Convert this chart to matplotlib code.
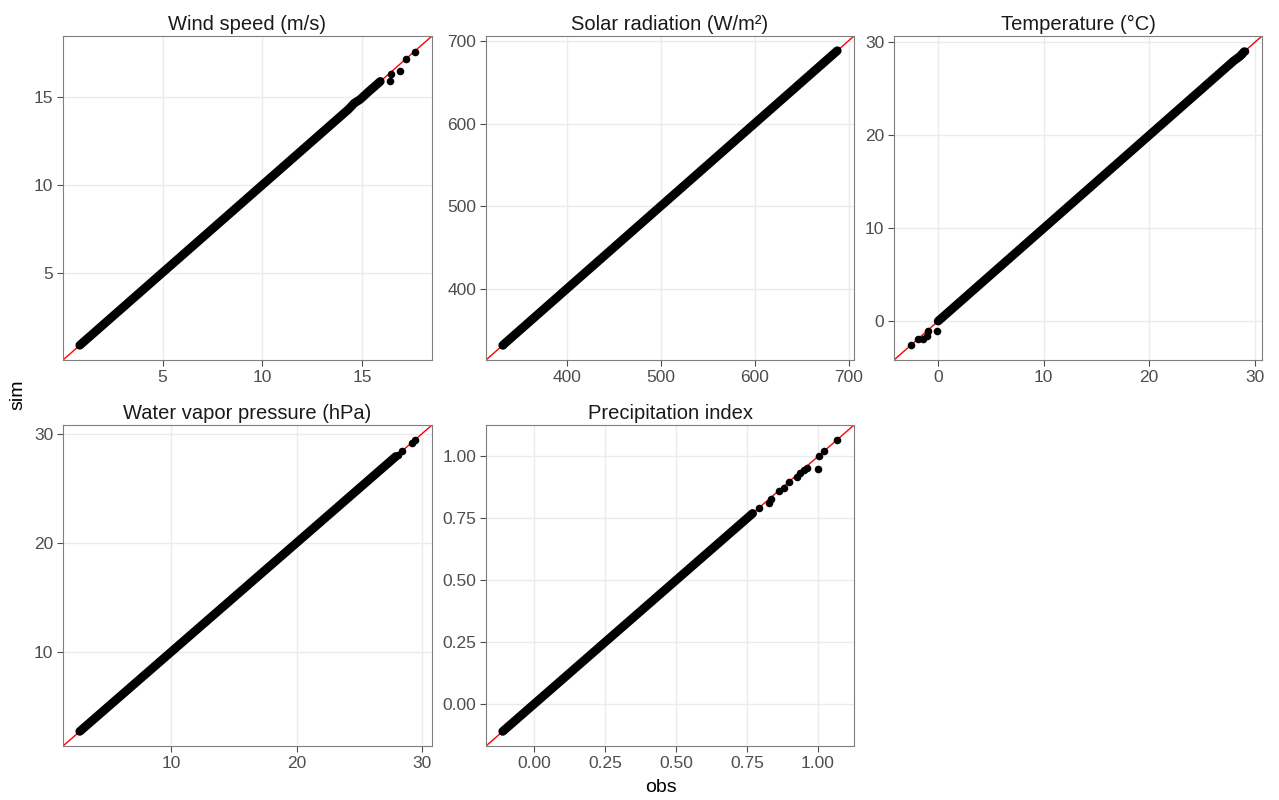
import matplotlib
matplotlib.use("Agg")
import matplotlib.pyplot as plt

plt.rcParams["font.family"] = ["Liberation Sans", "DejaVu Sans"]

titles = ["Wind speed (m/s)", "Solar radiation (W/m²)", "Temperature (°C)",
          "Water vapor pressure (hPa)", "Precipitation index"]

# dense part of each cloud (obs, sim)
wind_obs = [0.85, 1.5, 2.5, 3.5, 4.5, 5.5, 6.5, 7.5, 8.5, 9.5, 10.5, 11.5, 12.5, 13.5, 14.3, 14.6, 14.9, 15.3, 15.6, 15.9]
wind_sim = [0.85, 1.5, 2.5, 3.5, 4.5, 5.5, 6.5, 7.5, 8.5, 9.5, 10.5, 11.5, 12.5, 13.5, 14.3, 14.66, 14.88, 15.3, 15.6, 15.9]
solar_obs = [332, 350, 375, 400, 425, 450, 475, 500, 525, 550, 575, 600, 625, 650, 675, 688]
solar_sim = [332, 350, 375, 400, 425, 450, 475, 500, 525, 550, 575, 600, 625, 650, 675, 688]
temp_obs = [0.0, 0.3, 1.0, 2.5, 5.0, 7.5, 10.0, 12.5, 15.0, 17.5, 20.0, 22.5, 25.0, 27.0, 28.0, 28.6, 29.0]
temp_sim = [0.0, 0.3, 1.0, 2.5, 5.0, 7.5, 10.0, 12.5, 15.0, 17.5, 20.0, 22.5, 25.0, 27.0, 28.0, 28.5, 29.0]
vap_obs = [2.7, 3.5, 5.0, 7.5, 10.0, 12.5, 15.0, 17.5, 20.0, 22.5, 25.0, 26.5, 27.4, 27.9]
vap_sim = [2.7, 3.5, 5.0, 7.5, 10.0, 12.5, 15.0, 17.5, 20.0, 22.5, 25.0, 26.5, 27.4, 27.9]
prec_obs = [-0.11, -0.05, 0.0, 0.1, 0.2, 0.3, 0.4, 0.5, 0.6, 0.65, 0.7, 0.74, 0.77]
prec_sim = [-0.11, -0.05, 0.0, 0.1, 0.2, 0.3, 0.4, 0.5, 0.6, 0.65, 0.7, 0.74, 0.77]

# scattered points at the tails
wind_out_obs = [16.4, 16.45, 16.9, 17.2, 17.65]
wind_out_sim = [15.95, 16.35, 16.5, 17.2, 17.6]
solar_out_obs = [332]
solar_out_sim = [332]
temp_out_obs = [-2.55, -1.9, -1.4, -1.1, -1.0, -0.1, 28.8, 29.1]
temp_out_sim = [-2.6, -1.95, -1.95, -1.6, -1.1, -1.1, 28.7, 29.1]
vap_out_obs = [28.1, 28.37, 29.16, 29.4]
vap_out_sim = [28.0, 28.4, 29.17, 29.45]
prec_out_obs = [0.794, 0.826, 0.833, 0.864, 0.882, 0.899, 0.927, 0.938, 0.952, 0.963, 1.0, 1.005, 1.022, 1.068]
prec_out_sim = [0.79, 0.814, 0.83, 0.862, 0.874, 0.898, 0.915, 0.935, 0.947, 0.955, 0.951, 1.003, 1.023, 1.068]

core = [(wind_obs, wind_sim), (solar_obs, solar_sim), (temp_obs, temp_sim),
        (vap_obs, vap_sim), (prec_obs, prec_sim)]
outs = [(wind_out_obs, wind_out_sim), (solar_out_obs, solar_out_sim), (temp_out_obs, temp_out_sim),
        (vap_out_obs, vap_out_sim), (prec_out_obs, prec_out_sim)]
ticks = [[5, 10, 15], [400, 500, 600, 700], [0, 10, 20, 30], [10, 20, 30],
         [0.0, 0.25, 0.5, 0.75, 1.0]]
fmts = ["{:g}", "{:g}", "{:g}", "{:g}", "{:.2f}"]

# panel boxes in pixels: left, top, right, bottom
boxes = [(63, 36, 432, 360), (486, 36, 854, 360), (894, 36, 1262, 360),
         (63, 425, 432, 746), (486, 425, 854, 746)]

W, H = 1279, 800
fig = plt.figure(figsize=(W / 100, H / 100), dpi=100)

for i in range(5):
    l, t, r, b = boxes[i]
    ax = fig.add_axes([l / W, 1 - b / H, (r - l) / W, (b - t) / H])
    xo, yo = core[i]
    xs, ys = outs[i]
    lo = min(min(xo), min(yo), min(xs), min(ys))
    hi = max(max(xo), max(yo), max(xs), max(ys))
    pad = (hi - lo) * 0.05
    ax.set_xlim(lo - pad, hi + pad)
    ax.set_ylim(lo - pad, hi + pad)
    ax.axline((lo, lo), slope=1, color="red", lw=1.0, zorder=2)
    ax.plot(xo, yo, color="black", lw=6.3, solid_capstyle="round", zorder=3)
    ax.scatter(xs, ys, s=30, color="black", linewidths=0, zorder=4)
    ax.set_xticks(ticks[i])
    ax.set_yticks(ticks[i])
    ax.set_xticklabels([fmts[i].format(v) for v in ticks[i]])
    ax.set_yticklabels([fmts[i].format(v) for v in ticks[i]])
    ax.grid(True, color="#EBEBEB", lw=1.0)
    ax.set_axisbelow(True)
    ax.tick_params(labelsize=12.5, colors="#4D4D4D", length=4, width=0.8, labelcolor="#4D4D4D", pad=3)
    for s in ax.spines.values():
        s.set_color("#7F7F7F")
        s.set_linewidth(0.8)
    ax.set_title(titles[i], fontsize=14.5, pad=4, color="#1A1A1A")

fig.text(18 / W, 1 - 395 / H, "sim", rotation=90, ha="center", va="center", fontsize=14)
fig.text(661 / W, 1 - 788 / H, "obs", ha="center", va="center", fontsize=14)

fig.savefig("out.png", dpi=100)
plt.close(fig)
